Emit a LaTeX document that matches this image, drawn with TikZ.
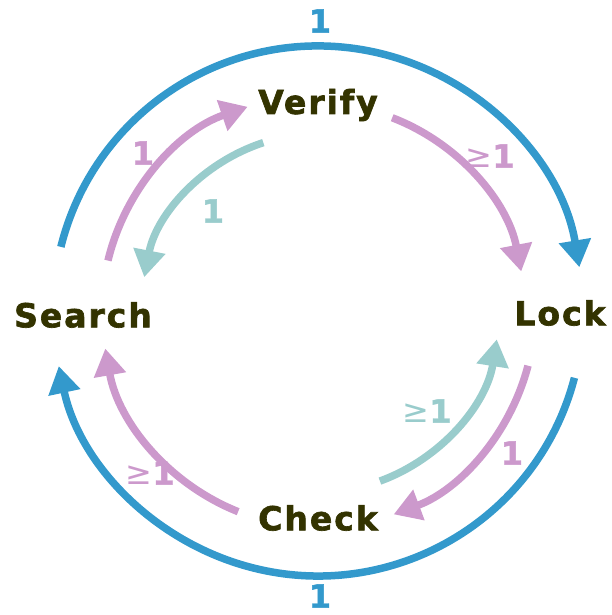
\documentclass[tikz,border=0pt]{standalone}
\usepackage{fontspec}
\setmainfont{DejaVu Sans}
\newfontfamily\statefont[LetterSpace=6,FakeBold=2]{DejaVu Sans Bold}
\newfontfamily\countfont[FakeBold=1.5]{DejaVu Sans Bold}
\newfontfamily\relfont{DejaVu Sans}
\usetikzlibrary{arrows.meta,calc}
\definecolor{ringblue}{HTML}{3399CC}
\definecolor{lilac}{HTML}{CC99CC}
\definecolor{aqua}{HTML}{99CCCC}
\definecolor{olive}{HTML}{333300}
\newcommand{\atleast}{{\relfont ≥}}
\tikzset{
  state/.style={text=olive,font=\statefont\fontsize{33}{33}\selectfont,inner sep=0pt},
  count/.style={font=\countfont\fontsize{32}{32}\selectfont,inner sep=0pt},
  flow/.style={line width=7.5pt,-{Triangle[length=27pt,width=31pt]}},
  outer/.style={flow,ringblue},
  fwd/.style={flow,lilac},
  back/.style={flow,aqua}
}
\begin{document}
\begin{tikzpicture}[x=1pt,y=1pt]
\useasboundingbox (0,0) rectangle (611,615);
\coordinate (c) at (318,304);

% states
\node[state] (verify) at (318,510) {Verify};
\node[state] (search) at (83,300) {Search};
\node[state] (lock) at (560,302) {Lock};
\node[state] (check) at (318,97) {Check};

% outer ring
\draw[outer] ($(c)+(166:265)$) arc[start angle=166,end angle=9.5,radius=265];
\draw[outer] ($(c)+(-14.6:265)$) arc[start angle=-14.6,end angle=-168,radius=265];

% inner transitions
\draw[fwd] ($(c)+(166.5:216)$) arc[start angle=166.5,end angle=109,radius=216];
\draw[back] ($(c)+(108:177)$) arc[start angle=108,end angle=169,radius=177];
\draw[fwd] ($(c)+(69:207)$) arc[start angle=69,end angle=11,radius=207];
\draw[fwd] ($(c)+(-14.6:217)$) arc[start angle=-14.6,end angle=-69.6,radius=217];
\draw[back] ($(c)+(-70:181)$) arc[start angle=-70,end angle=-9,radius=181];
\draw[fwd] ($(c)+(-111.7:216)$) arc[start angle=-111.7,end angle=-170,radius=216];

% counts
\node[count,text=ringblue] (ntop) at (320,594) {1};
\node[count,text=ringblue] (nbot) at (320,19) {1};
\node[count,text=lilac] (nsv) at (143,462) {1};
\node[count,text=aqua] (nvs) at (213,404) {1};
\node[count,text=lilac] (nvl) at (490,459) {\atleast1};
\node[count,text=aqua] (ncl) at (427,204) {\atleast1};
\node[count,text=lilac] (nlc) at (512,162) {1};
\node[count,text=lilac] (ncs) at (150,142) {\atleast1};
\end{tikzpicture}
\end{document}
